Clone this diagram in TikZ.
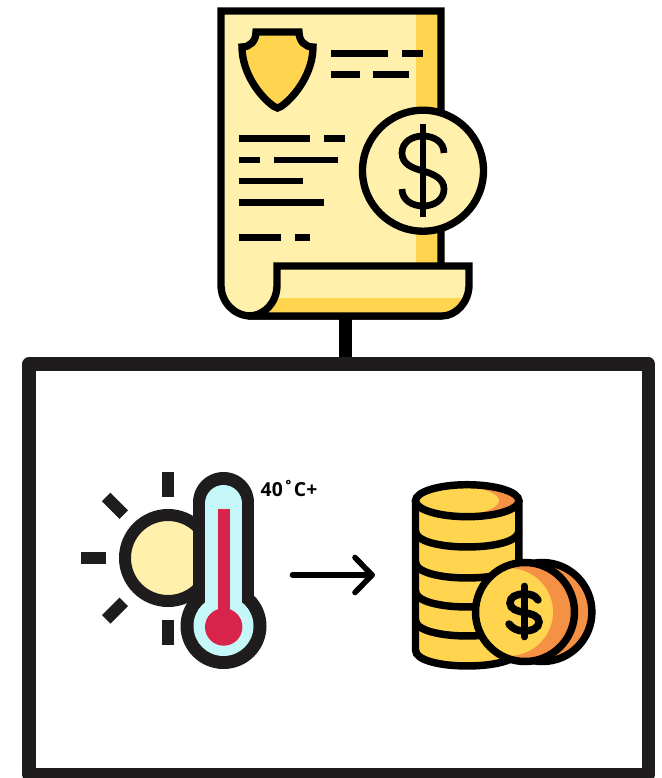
\documentclass[tikz,border=0pt]{standalone}
\usepackage{fontspec}
\setsansfont{Open Sans}
\definecolor{paper}{HTML}{FFF1AB}
\definecolor{gold}{HTML}{FFD54F}
\definecolor{orangec}{HTML}{F49145}
\definecolor{ink}{HTML}{000000}
\definecolor{dark}{HTML}{1E1C1D}
\definecolor{ice}{HTML}{C5F7F9}
\definecolor{redc}{HTML}{D8234A}
\tikzset{
  outline/.style={draw=ink,line width=5.5pt,line join=miter},
  textline/.style={draw=ink,line width=5.2pt},
  ray/.style={draw=dark,line width=9pt},
  coinline/.style={draw=ink,line width=5.6pt},
  arrowline/.style={draw=ink,line width=4.2pt,line cap=round,line join=round}
}
\begin{document}
\begin{tikzpicture}[x=0.75pt,y=-0.75pt]
\useasboundingbox (0,0) rectangle (661,778);
\fill[white] (0,0) rectangle (661,778);
% connector and frame
\coordinate (docbottom) at (345.7,316);
\coordinate (frametop) at (345.7,364);
\draw[ink,line width=9.8pt] (docbottom) -- (frametop);
\draw[dark,line width=10pt,line join=round] (29,364) rectangle (648.3,774.3);
% document page
\path[fill=paper] (221,11) -- (441,11) -- (441,300) -- (251,316) .. controls (234,316) and (221,302) .. (221,285) -- cycle;
\fill[gold] (416,11) rectangle (441,290);
\foreach \a/\b/\y in {331/388/53.3,402/423/53.3,331/359.5/74.7,373/409/74.7,238.5/310/138.5,324/345/138.5,238.5/260/160,274/338/160,238.5/303/181,238.5/324/202.3,238.5/281/237.7,295/310/237.7}
  \draw[textline] (\a,\y) -- (\b,\y);
% shield
\path[outline,fill=gold] (256,32) -- (299,32) .. controls (299,41) and (305,47) .. (313,47) .. controls (313,72) and (296,96) .. (281,106.5) .. controls (279,108.5) and (276,108.5) .. (274,106.5) .. controls (259,96) and (242,72) .. (242,47) .. controls (250,47) and (256,41) .. (256,32) -- cycle;
% page outline
\draw[outline] (441,266) -- (441,11) -- (221,11) -- (221,285) .. controls (221,302) and (234,316) .. (251,316) -- (442,316);
% scroll
\path[fill=paper] (277,266) -- (469,266) -- (469,285) .. controls (469,302) and (456,316) .. (442,316) -- (248,316) .. controls (265,316) and (277,302) .. (277,285) -- cycle;
\begin{scope}
  \clip (277,266) -- (469,266) -- (469,285) .. controls (469,302) and (456,316) .. (442,316) -- (248,316) .. controls (265,316) and (277,302) .. (277,285) -- cycle;
  \fill[gold] (240,298) rectangle (475,320);
\end{scope}
\draw[outline] (248,316) .. controls (265,316) and (277,302) .. (277,285) -- (277,266) -- (469,266) -- (469,285) .. controls (469,302) and (456,316) .. (442,316) -- cycle;
% dollar badge
\node[circle,minimum size=0pt,inner sep=0pt] (badge) at (423,170.7) {};
\path[outline,fill=paper] (badge) circle[radius=60.5];
\draw[ink,line width=5pt] (423,124) -- (423,217);
\draw[ink,line width=5pt] (444,153) .. controls (444,142) and (434,136) .. (423,136) .. controls (412,136) and (402,142) .. (402,153) .. controls (402,164) and (412,168) .. (423,171) .. controls (434,174) and (444,179) .. (444,189) .. controls (444,200) and (434,206) .. (423,206) .. controls (412,206) and (402,200) .. (402,189);
% sun
\draw[dark,line width=9pt,fill=paper] (168,558) circle[radius=43];
\draw[ray] (168,472) -- (168,496.5);
\draw[ray] (168,620) -- (168,645);
\draw[ray] (81,558) -- (106,558);
\draw[ray] (106.2,497) -- (123.8,514.6);
\draw[ray] (106.2,619.4) -- (123.8,601.8);
% thermometer
\fill[dark] (223.5,502.5) circle[radius=30.5];
\fill[dark] (193,502.5) rectangle (254,626);
\fill[dark] (223.5,626) circle[radius=43];
\fill[ice] (223.5,503.5) circle[radius=18.5];
\fill[ice] (205,503.5) rectangle (242,626);
\fill[ice] (223.5,626) circle[radius=30];
\fill[redc] (218,509) rectangle (230,627);
\fill[redc] (223.7,627) circle[radius=18.7];
\node[font=\sffamily\bfseries\fontsize{14.5}{16}\selectfont,text=ink,inner sep=0pt] (temp) at (289,488) {40˚C+};
% arrow
\coordinate (arrowstart) at (292.5,575);
\coordinate (arrowtip) at (372,575);
\draw[arrowline] (arrowstart) -- (arrowtip);
\draw[arrowline] (355,557.5) -- (arrowtip) -- (355,592.5);
% coin stack
\fill[gold] (415.5,500.7) rectangle (518.8,650);
\fill[gold] (467.2,650) ellipse[x radius=51.7,y radius=16];
\begin{scope}
  \clip (467.2,500.7) ellipse[x radius=51.7,y radius=16];
  \fill[orangec] (467.2,500.7) ellipse[x radius=51.7,y radius=16];
  \fill[gold] (447,500.7) ellipse[x radius=52,y radius=15.5];
\end{scope}
\draw[coinline] (467.2,500.7) ellipse[x radius=51.7,y radius=16];
\draw[coinline] (415.5,500.7) -- (415.5,650) .. controls (415.5,671.3) and (518.8,671.3) .. (518.8,650) -- (518.8,500.7);
\foreach \y in {531,562,591,620}
  \draw[coinline] (415.5,\y) .. controls (415.5,\y+21.3) and (518.8,\y+21.3) .. (518.8,\y);
% coins in front
\path[coinline,fill=orangec] (542.4,612) circle[radius=49.5];
\fill[gold] (525,612) circle[radius=49];
\begin{scope}
  \clip (525,612) circle[radius=49];
  \fill[orangec] (525,612) circle[radius=49];
  \fill[gold] (508,612) ellipse[x radius=45,y radius=44];
\end{scope}
\draw[coinline] (525,612) circle[radius=49.5];
\draw[ink,line width=5pt,line cap=round] (524.5,586) -- (524.5,637);
\draw[ink,line width=5.6pt,line cap=round] (538,600) .. controls (535,595) and (530,594) .. (524,594) .. controls (516,594) and (510,597) .. (510,603) .. controls (510,609) and (517,611) .. (524,612.5) .. controls (532,614) and (539,616) .. (539,622) .. controls (539,628) and (532,631) .. (524,631) .. controls (518,631) and (513,629) .. (509,624);
\end{tikzpicture}
\end{document}
